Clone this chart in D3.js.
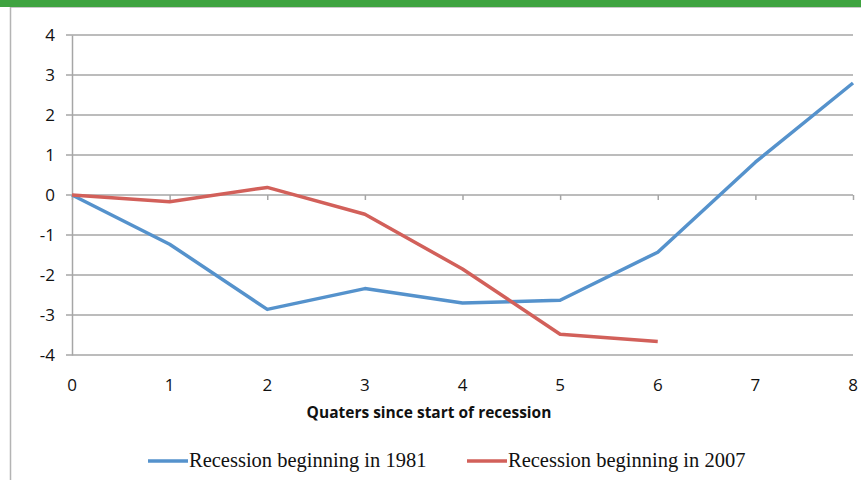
<!DOCTYPE html>
<html>
<head>
<meta charset="utf-8">
<script src="https://cdn.jsdelivr.net/npm/d3@7"></script>
<style>
body { margin: 0; background: #fff; }
svg { display: block; }
</style>
</head>
<body>
<svg id="chart" width="861" height="480"></svg>
<script>
// values
var quarters = [0, 1, 2, 3, 4, 5, 6, 7, 8];
var yTicks = [-4, -3, -2, -1, 0, 1, 2, 3, 4];
var rec1981 = [0, -1.23, -2.86, -2.34, -2.7, -2.63, -1.43, 0.82, 2.8];
var rec2007 = [0, -0.17, 0.19, -0.48, -1.85, -3.48, -3.66];
var seriesNames = ["Recession beginning in 1981", "Recession beginning in 2007"];
var colors = ["#5592cc", "#d2605a"];

var svg = d3.select("#chart"),
	margin = {top: 35, left: 72, bottom: 125, right: 8},
	width = +svg.attr("width"),
	height = +svg.attr("height");

// green band + frame
svg.append("rect").attr("x", 0).attr("y", 0).attr("width", width).attr("height", 7).attr("fill", "#3fa340");
svg.append("line").attr("x1", 10).attr("x2", width).attr("y1", 7.5).attr("y2", 7.5).attr("stroke", "#c8c8c8").attr("stroke-width", 1);
svg.append("line").attr("x1", 10.5).attr("x2", 10.5).attr("y1", 7).attr("y2", height).attr("stroke", "#b4b4b4").attr("stroke-width", 1.5);

var x = d3.scaleLinear()
	.domain([0, 8])
	.range([margin.left, width - margin.right]);

var y = d3.scaleLinear()
	.domain([-4, 4])
	.range([height - margin.bottom, margin.top]);

// horizontal grid
svg.append("g")
	.selectAll("line")
	.data(yTicks)
	.enter().append("line")
	.attr("x1", margin.left - 6)
	.attr("x2", x(8))
	.attr("y1", d => y(d))
	.attr("y2", d => y(d))
	.attr("stroke", "#a6a6a6")
	.attr("stroke-width", 1.5);

// y axis (plain hyphen for negatives, like the original)
var yAxis = svg.append("g")
	.attr("transform", `translate(${margin.left},0)`)
	.call(d3.axisLeft(y).tickValues(yTicks).tickSize(0).tickPadding(17).tickFormat(d => String(d)))
	.attr("font-family", "'Open Sans', sans-serif")
	.attr("font-size", 17);
yAxis.select(".domain").attr("stroke", "#a6a6a6").attr("stroke-width", 1.5);
yAxis.selectAll("text").attr("fill", "#111");

// x axis sits on zero, labels at the bottom
var xAxis = svg.append("g")
	.attr("transform", `translate(0,${y(0)})`)
	.call(d3.axisBottom(x).tickValues(quarters).tickSize(5).tickFormat(""));
xAxis.select(".domain").remove();
xAxis.selectAll("line").attr("stroke", "#a6a6a6").attr("stroke-width", 1.5);

svg.append("g")
	.selectAll("text")
	.data(quarters)
	.enter().append("text")
	.attr("x", d => x(d))
	.attr("y", y(-4) + 36)
	.attr("text-anchor", "middle")
	.attr("font-family", "'Open Sans', sans-serif")
	.attr("font-size", 17)
	.attr("fill", "#111")
	.text(d => d);

svg.append("text")
	.attr("x", 429)
	.attr("y", 418)
	.attr("text-anchor", "middle")
	.attr("font-family", "'Open Sans', sans-serif")
	.attr("font-weight", "bold")
	.attr("font-size", 15.5)
	.attr("fill", "#111")
	.text("Quaters since start of recession");

// lines
var line = d3.line()
	.x((d, i) => x(quarters[i]))
	.y(d => y(d));

[rec1981, rec2007].forEach(function(s, i) {
	svg.append("path")
		.datum(s)
		.attr("fill", "none")
		.attr("stroke", colors[i])
		.attr("stroke-width", 3.5)
		.attr("stroke-linejoin", "round")
		.attr("d", line);
});

// legend
var legendX = [148, 467];
seriesNames.forEach(function(name, i) {
	var g = svg.append("g").attr("transform", `translate(${legendX[i]},461)`);
	g.append("line")
		.attr("x1", 0).attr("x2", 40)
		.attr("stroke", colors[i])
		.attr("stroke-width", 3.5);
	g.append("text")
		.attr("x", 41)
		.attr("y", 6)
		.attr("font-family", "'Liberation Serif', serif")
		.attr("font-size", 20.5)
		.attr("fill", "#111")
		.text(name);
});
</script>
</body>
</html>
